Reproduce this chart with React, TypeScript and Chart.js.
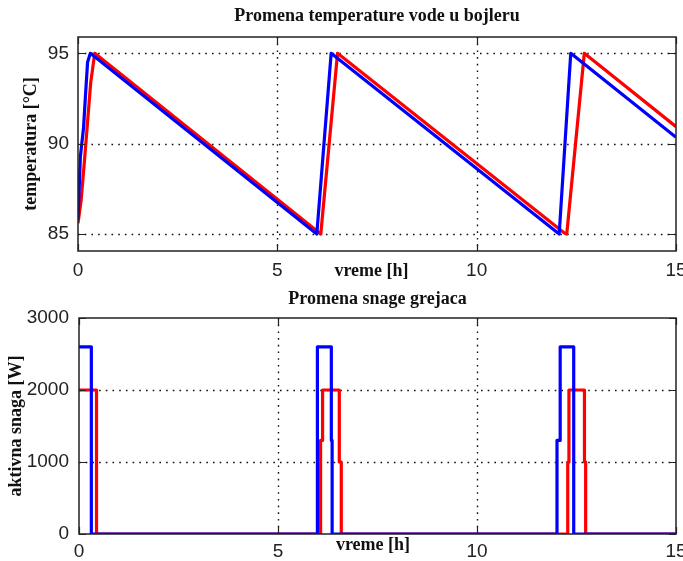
import React, { useEffect, useRef } from 'react';
import { Chart, registerables } from 'chart.js';

Chart.register(...registerables);

// ---------- data ----------
const tempTimeBlue = [0, 0.06, 0.14, 0.18, 0.24, 0.31, 5.99, 6.35, 12.07, 12.36, 15];
const tempBlue = [85.8, 89.3, 90.9, 92.4, 94.5, 95, 85, 95, 85, 95, 90.35];

const tempTimeRed = [0, 0.08, 0.16, 0.24, 0.32, 0.42, 6.09, 6.51, 12.2, 12.26, 12.7, 15];
const tempRed = [85.6, 86.9, 89.0, 91.2, 93.4, 95, 85, 95, 85.05, 85, 95, 90.94];

const powerTimeBlue = [0, 0.31, 0.31, 5.99, 5.99, 6.34, 6.34, 6.36, 6.36, 12.01, 12.01, 12.09, 12.09, 12.43, 12.43, 15];
const powerBlue = [2600, 2600, 0, 0, 2600, 2600, 1300, 1300, 0, 0, 1300, 1300, 2600, 2600, 0, 0];

const powerTimeRed = [0, 0.44, 0.44, 6.07, 6.07, 6.12, 6.12, 6.54, 6.54, 6.59, 6.59, 12.28, 12.28, 12.31, 12.31, 12.7, 12.7, 12.73, 12.73, 15];
const powerRed = [2000, 2000, 0, 0, 1300, 1300, 2000, 2000, 1000, 1000, 0, 0, 1000, 1000, 2000, 2000, 1000, 1000, 0, 0];

const xTicks = [0, 5, 10, 15];
const tempTicks = [85, 90, 95];
const powerTicks = [0, 1000, 2000, 3000];

const topTitle = 'Promena temperature vode u bojleru';
const bottomTitle = 'Promena snage grejaca';
const topYTitle = 'temperatura [°C]';
const bottomYTitle = 'aktivna snaga [W]';
const xTitle = 'vreme [h]';

const BLUE = '#0000ff';
const RED = '#ff0000';
const CANVAS_W = 700;
const SERIF = '"Liberation Serif", "Times New Roman", serif';
const SANS = '"Liberation Sans", Arial, sans-serif';

function pts(ts: number[], vs: number[]) {
  return ts.map((t, i) => ({ x: t, y: vs[i] }));
}

function makeAxesPlugin(label: string, dx: number, dy: number) {
  return {
    id: 'matlabAxes',
    beforeDatasetsDraw(chart: any) {
      const { ctx, chartArea, scales } = chart;
      const { left, right, top, bottom } = chartArea;
      ctx.save();
      ctx.strokeStyle = '#111';
      ctx.lineWidth = 1.4;
      ctx.setLineDash([1.6, 5.1]);
      scales.x.ticks.forEach((t: any) => {
        const px = Math.round(scales.x.getPixelForValue(t.value)) + 0.5;
        if (px <= left + 2 || px >= right - 2) return;
        ctx.beginPath();
        ctx.moveTo(px, top);
        ctx.lineTo(px, bottom);
        ctx.stroke();
      });
      scales.y.ticks.forEach((t: any) => {
        const py = Math.round(scales.y.getPixelForValue(t.value)) + 0.5;
        if (py <= top + 2 || py >= bottom - 2) return;
        ctx.beginPath();
        ctx.moveTo(left, py);
        ctx.lineTo(right, py);
        ctx.stroke();
      });
      ctx.restore();
    },
    afterDatasetsDraw(chart: any) {
      const { ctx, chartArea, scales } = chart;
      const { left, right, top, bottom } = chartArea;
      const tl = 7;
      ctx.save();
      ctx.strokeStyle = '#222';
      ctx.lineWidth = 1.5;
      ctx.setLineDash([]);
      ctx.strokeRect(left, top, right - left, bottom - top);
      ctx.lineWidth = 1.2;
      scales.x.ticks.forEach((t: any) => {
        const px = Math.round(scales.x.getPixelForValue(t.value)) + 0.5;
        ctx.beginPath();
        ctx.moveTo(px, bottom);
        ctx.lineTo(px, bottom - tl);
        ctx.moveTo(px, top);
        ctx.lineTo(px, top + tl);
        ctx.stroke();
      });
      scales.y.ticks.forEach((t: any) => {
        const py = Math.round(scales.y.getPixelForValue(t.value)) + 0.5;
        ctx.beginPath();
        ctx.moveTo(left, py);
        ctx.lineTo(left + tl, py);
        ctx.moveTo(right, py);
        ctx.lineTo(right - tl, py);
        ctx.stroke();
      });
      ctx.restore();
    },
    afterDraw(chart: any) {
      const { ctx, chartArea } = chart;
      ctx.save();
      ctx.font = `bold 18px ${SERIF}`;
      ctx.fillStyle = '#111';
      ctx.textAlign = 'center';
      ctx.textBaseline = 'middle';
      ctx.fillText(label, (chartArea.left + chartArea.right) / 2 + dx, chartArea.bottom + dy);
      ctx.restore();
    },
  };
}

interface Cfg {
  title: string;
  yTitle: string;
  datasets: any[];
  yMin: number;
  yMax: number;
  yTicks: number[];
  yWidth: number;
  xHeight: number;
  titlePad: { top: number; bottom: number };
  yTitlePad: number;
  yTickPad: number;
  xTickPad: number;
  xLabelDx: number;
  xLabelDy: number;
}

function buildConfig(c: Cfg): any {
  return {
    type: 'line',
    data: { datasets: c.datasets },
    plugins: [makeAxesPlugin(xTitle, c.xLabelDx, c.xLabelDy)],
    options: {
      animation: false,
      responsive: false,
      devicePixelRatio: 1,
      layout: { padding: { left: 0, right: CANVAS_W - 676, top: 0, bottom: 0 } },
      elements: { point: { radius: 0 }, line: { tension: 0 } },
      plugins: {
        legend: { display: false },
        tooltip: { enabled: false },
        title: {
          display: true,
          fullSize: false,
          text: c.title,
          color: '#111',
          font: { family: SERIF, weight: 'bold', size: 18, lineHeight: 1.2 },
          padding: c.titlePad,
        },
      },
      scales: {
        x: {
          type: 'linear',
          min: 0,
          max: 15,
          afterBuildTicks: (s: any) => {
            s.ticks = xTicks.map((v) => ({ value: v }));
          },
          afterFit: (s: any) => {
            s.height = c.xHeight;
          },
          grid: { display: false, drawTicks: false },
          border: { display: false },
          ticks: {
            color: '#222',
            font: { family: SANS, size: 19 },
            padding: c.xTickPad,
            maxRotation: 0,
            autoSkip: false,
            callback: (v: any) => String(v),
          },
        },
        y: {
          type: 'linear',
          min: c.yMin,
          max: c.yMax,
          afterBuildTicks: (s: any) => {
            s.ticks = c.yTicks.map((v) => ({ value: v }));
          },
          afterFit: (s: any) => {
            s.width = c.yWidth;
          },
          grid: { display: false, drawTicks: false },
          border: { display: false },
          ticks: {
            color: '#222',
            font: { family: SANS, size: 19 },
            padding: c.yTickPad,
            autoSkip: false,
            callback: (v: any) => String(v),
          },
          title: {
            display: true,
            text: c.yTitle,
            color: '#111',
            font: { family: SERIF, weight: 'bold', size: 18, lineHeight: 1.2 },
            padding: { top: c.yTitlePad, bottom: 0 },
          },
        },
      },
    },
  };
}

function lineDs(data: any[], color: string) {
  return {
    data,
    borderColor: color,
    backgroundColor: color,
    borderWidth: 3.2,
    borderJoinStyle: 'round',
    pointRadius: 0,
    fill: false,
  };
}

export default function App() {
  const topRef = useRef<HTMLCanvasElement | null>(null);
  const botRef = useRef<HTMLCanvasElement | null>(null);

  useEffect(() => {
    const top = new Chart(
      topRef.current as HTMLCanvasElement,
      buildConfig({
        title: topTitle,
        yTitle: topYTitle,
        datasets: [lineDs(pts(tempTimeBlue, tempBlue), BLUE), lineDs(pts(tempTimeRed, tempRed), RED)],
        yMin: 84.06,
        yMax: 95.9,
        yTicks: tempTicks,
        yWidth: 78,
        xHeight: 29,
        titlePad: { top: 6, bottom: 9.4 },
        yTitlePad: 21,
        yTickPad: 9,
        xTickPad: 8,
        xLabelDx: -5.5,
        xLabelDy: 20,
      })
    );
    const bot = new Chart(
      botRef.current as HTMLCanvasElement,
      buildConfig({
        title: bottomTitle,
        yTitle: bottomYTitle,
        datasets: [lineDs(pts(powerTimeBlue, powerBlue), BLUE), lineDs(pts(powerTimeRed, powerRed), RED)],
        yMin: 0,
        yMax: 3000,
        yTicks: powerTicks,
        yWidth: 79,
        xHeight: 27,
        titlePad: { top: 9, bottom: 7.4 },
        yTitlePad: 6,
        yTickPad: 10,
        xTickPad: 6,
        xLabelDx: -4.5,
        xLabelDy: 11.7,
      })
    );
    return () => {
      top.destroy();
      bot.destroy();
    };
  }, []);

  return (
    <div
      style={{
        position: 'fixed',
        left: 0,
        top: 0,
        width: 683,
        height: 561,
        overflow: 'hidden',
        background: '#fff',
      }}
    >
      <canvas
        ref={topRef}
        width={CANVAS_W}
        height={280}
        style={{ position: 'absolute', left: 0, top: 0, width: CANVAS_W, height: 280 }}
      />
      <canvas
        ref={botRef}
        width={CANVAS_W}
        height={281}
        style={{ position: 'absolute', left: 0, top: 280, width: CANVAS_W, height: 281 }}
      />
    </div>
  );
}
